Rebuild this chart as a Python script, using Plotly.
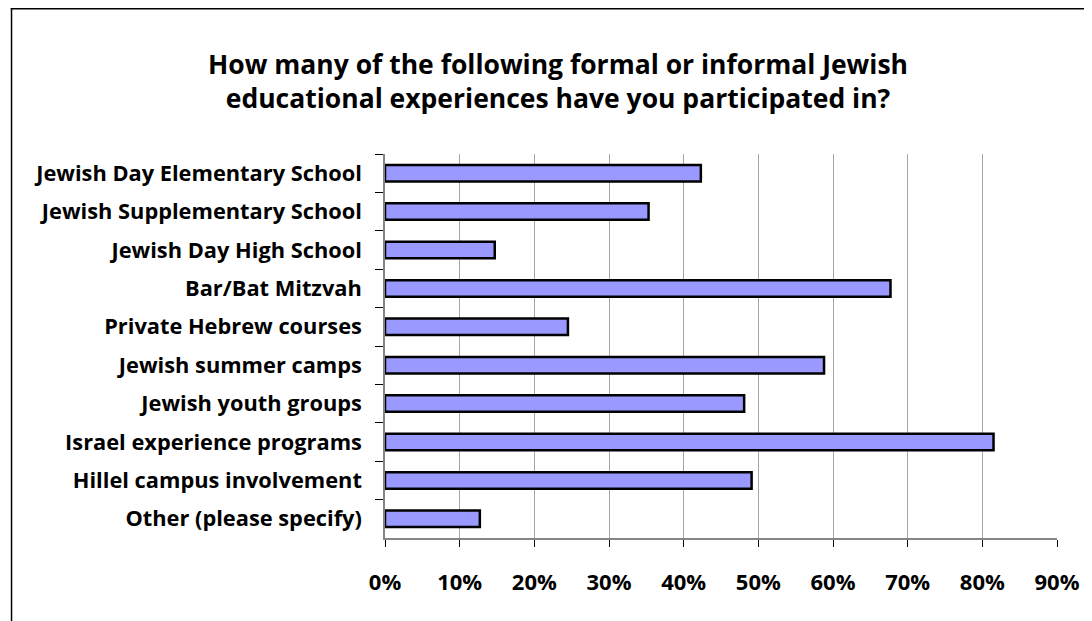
import plotly.graph_objects as go

categories = [
    "Jewish Day Elementary School",
    "Jewish Supplementary School",
    "Jewish Day High School",
    "Bar/Bat Mitzvah",
    "Private Hebrew courses",
    "Jewish summer camps",
    "Jewish youth groups",
    "Israel experience programs",
    "Hillel campus involvement",
    "Other (please specify)",
]
values = [0.423, 0.353, 0.147, 0.677, 0.245, 0.588, 0.481, 0.815, 0.491, 0.127]
tick_vals = [0, 0.1, 0.2, 0.3, 0.4, 0.5, 0.6, 0.7, 0.8, 0.9]
tick_text = ["0%", "10%", "20%", "30%", "40%", "50%", "60%", "70%", "80%", "90%"]
title_text = "How many of the following formal or informal Jewish<br>educational experiences have you participated in?"

FONT = "Open Sans"
OFF = 8  # page body margin
W, H = 1092 - OFF, 621 - OFF
L, R, T, B = 385 - OFF, 38 - OFF, 154 - OFF, 83
PW, PH = W - L - R, H - T - B


def fx(x):
    # figure-pixel x -> paper
    return (x - L) / PW


def fy(y):
    # figure-pixel y -> paper
    return 1 - (y - T) / PH


fig = go.Figure(go.Bar(
    x=values, y=categories, orientation="h",
    marker=dict(color="#9999FF", line=dict(color="#000000", width=2.5)),
    hoverinfo="skip",
))

fig.update_layout(
    width=W, height=H,
    margin=dict(l=L, r=R, t=T, b=B),
    paper_bgcolor="white", plot_bgcolor="white",
    bargap=0.57,
    showlegend=False,
    font=dict(family=FONT, color="#000000"),
    annotations=[dict(
        text="<b>" + title_text + "</b>",
        xref="paper", yref="paper",
        x=fx(559 - OFF), y=fy(81 - OFF),
        xanchor="center", yanchor="middle",
        showarrow=False, align="center",
        font=dict(family=FONT, size=26.5, color="#000000"),
    )],
    shapes=[
        dict(type="line", xref="paper", yref="paper",
             x0=fx(0), x1=fx(W + 5), y0=fy(0.75), y1=fy(0.75),
             line=dict(color="#000000", width=1.5)),
        dict(type="line", xref="paper", yref="paper",
             x0=fx(0.75), x1=fx(0.75), y0=fy(0), y1=fy(H + 5),
             line=dict(color="#000000", width=1.5)),
    ],
)

fig.update_xaxes(
    range=[0, 0.9], tickvals=tick_vals, ticktext=tick_text,
    showgrid=True, gridcolor="#A6A6A6", gridwidth=1,
    showline=True, linecolor="#868686", linewidth=1.5,
    ticks="outside", ticklen=7, tickcolor="#000000", tickwidth=1,
    ticklabelstandoff=17,
    tickfont=dict(family=FONT, size=22, color="#000000", weight="bold"),
    zeroline=False, fixedrange=True,
)
fig.update_yaxes(
    autorange="reversed",
    showline=True, linecolor="#868686", linewidth=1.5,
    ticks="outside", ticklen=8, tickcolor="#000000", tickwidth=1,
    tickson="boundaries",
    ticklabelstandoff=17,
    tickfont=dict(family=FONT, size=21.8, color="#000000", weight="bold"),
    showgrid=False, fixedrange=True,
)

fig.write_html("out.html")
